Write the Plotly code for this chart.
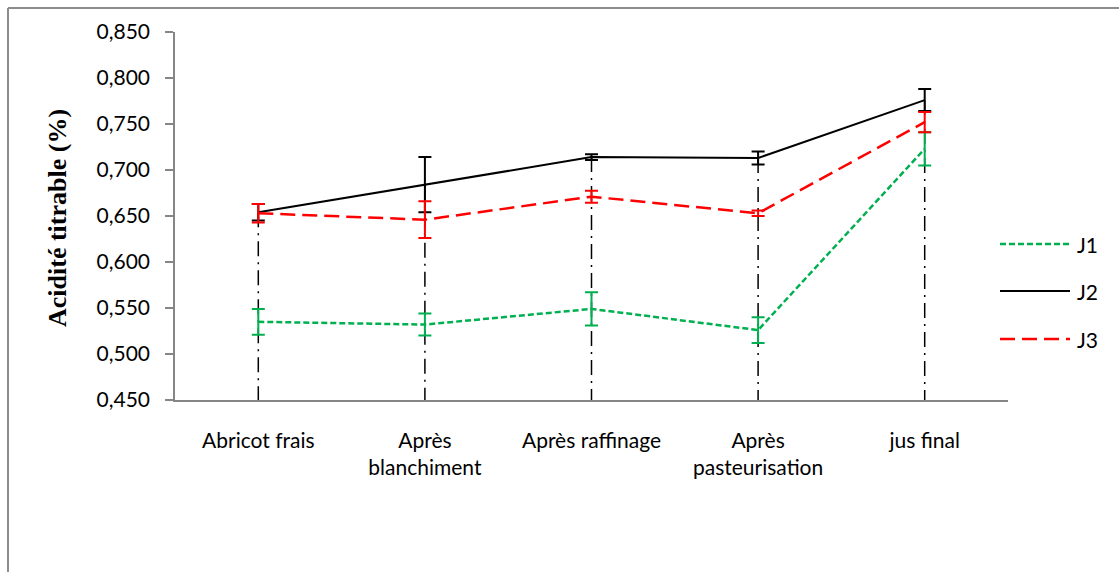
import plotly.graph_objects as go

# Stages of apricot juice processing
categories = ["Abricot frais", "Après<br>blanchiment", "Après raffinage",
              "Après<br>pasteurisation", "jus final"]

# Titratable acidity (%) per batch, with standard deviations
j1 = [0.535, 0.532, 0.549, 0.526, 0.723]
j1_err = [0.014, 0.012, 0.018, 0.014, 0.018]
j2 = [0.654, 0.684, 0.714, 0.713, 0.776]
j2_err = [0.009, 0.030, 0.003, 0.007, 0.012]
j3 = [0.653, 0.646, 0.671, 0.653, 0.752]
j3_err = [0.010, 0.020, 0.0065, 0.003, 0.011]

y_ticks = [0.45, 0.50, 0.55, 0.60, 0.65, 0.70, 0.75, 0.80, 0.85]

W, H = 1119, 572
L, R, T, B = 175, 1008, 32, 400  # plot area edges in pixels
Y_MIN, Y_MAX = 0.45, 0.85


def px_x(p):
    return (p - L) / (R - L)


def px_y(p):
    return (B - p) / (B - T)


GREEN = "#00B050"
RED = "#FF0000"
BLACK = "#000000"
AXIS = "#868686"
FONT = "Lato"
FS = 21

x = list(range(len(categories)))

# Drop lines from the highest point of each stage down to the axis
drop_x, drop_y = [], []
for i in x:
    drop_x += [i, i, None]
    drop_y += [max(j1[i], j2[i], j3[i]), Y_MIN, None]

fig = go.Figure()
fig.add_trace(go.Scatter(
    x=drop_x, y=drop_y, mode="lines", hoverinfo="skip",
    line=dict(color=BLACK, width=1.5, dash="15px,6px,2px,6px"),
    showlegend=False))

series = [
    ("J1", j1, j1_err, GREEN, 2.5, "6px,3px"),
    ("J2", j2, j2_err, BLACK, 2.0, "solid"),
    ("J3", j3, j3_err, RED, 2.5, "15px,7px"),
]
for name, vals, errs, color, width, dash in series:
    fig.add_trace(go.Scatter(
        x=x, y=vals, name=name, mode="lines",
        line=dict(color=color, width=width, dash=dash),
        error_y=dict(type="data", array=errs, visible=True,
                     color=color, thickness=2, width=6.5),
        showlegend=False))

shapes = []
annotations = []

# Legend drawn as line samples with labels
legend_rows = [244, 291, 339]
for (name, vals, errs, color, width, dash), yy in zip(series, legend_rows):
    shapes.append(dict(type="line", xref="paper", yref="paper",
                       x0=px_x(1000), x1=px_x(1070), y0=px_y(yy), y1=px_y(yy),
                       line=dict(color=color, width=width, dash=dash)))
    annotations.append(dict(xref="paper", yref="paper", x=px_x(1075), y=px_y(yy),
                            text=name, showarrow=False, xanchor="left",
                            yanchor="middle",
                            font=dict(family=FONT, size=FS, color=BLACK)))

# Outer chart frame (top and left edges)
frame = dict(color="#8C8C8C", width=2)
shapes.append(dict(type="line", xref="paper", yref="paper",
                   x0=px_x(8), x1=px_x(W + 5), y0=px_y(8), y1=px_y(8), line=frame))
shapes.append(dict(type="line", xref="paper", yref="paper",
                   x0=px_x(8), x1=px_x(8), y0=px_y(8), y1=px_y(H + 5), line=frame))

# Y-axis title
annotations.append(dict(xref="paper", yref="paper", x=px_x(57), y=px_y(218),
                        text="<b>Acidité titrable (%)</b>", showarrow=False,
                        textangle=-90, xanchor="center", yanchor="middle",
                        font=dict(family="Liberation Serif", size=26, color=BLACK)))

fig.update_layout(
    width=W, height=H,
    margin=dict(l=L, r=W - R, t=T, b=H - B),
    paper_bgcolor="white", plot_bgcolor="white",
    separators=", ",
    showlegend=False,
    shapes=shapes,
    annotations=annotations,
    font=dict(family=FONT, size=FS, color=BLACK),
)
fig.update_xaxes(
    range=[-0.5, len(categories) - 0.5],
    tickvals=x, ticktext=categories,
    ticks="", showgrid=False, zeroline=False,
    showline=True, linecolor=AXIS, linewidth=1.5,
    ticklabelstandoff=21,
    tickfont=dict(family=FONT, size=FS, color=BLACK),
)
fig.update_yaxes(
    range=[Y_MIN, Y_MAX], tickvals=y_ticks, tickformat=".3f",
    ticks="outside", ticklen=8, tickcolor=AXIS, tickwidth=1.5,
    showgrid=False, zeroline=False,
    showline=True, linecolor=AXIS, linewidth=1.5,
    ticklabelstandoff=11,
    tickfont=dict(family=FONT, size=FS, color=BLACK),
)

fig.write_html("out.html")
